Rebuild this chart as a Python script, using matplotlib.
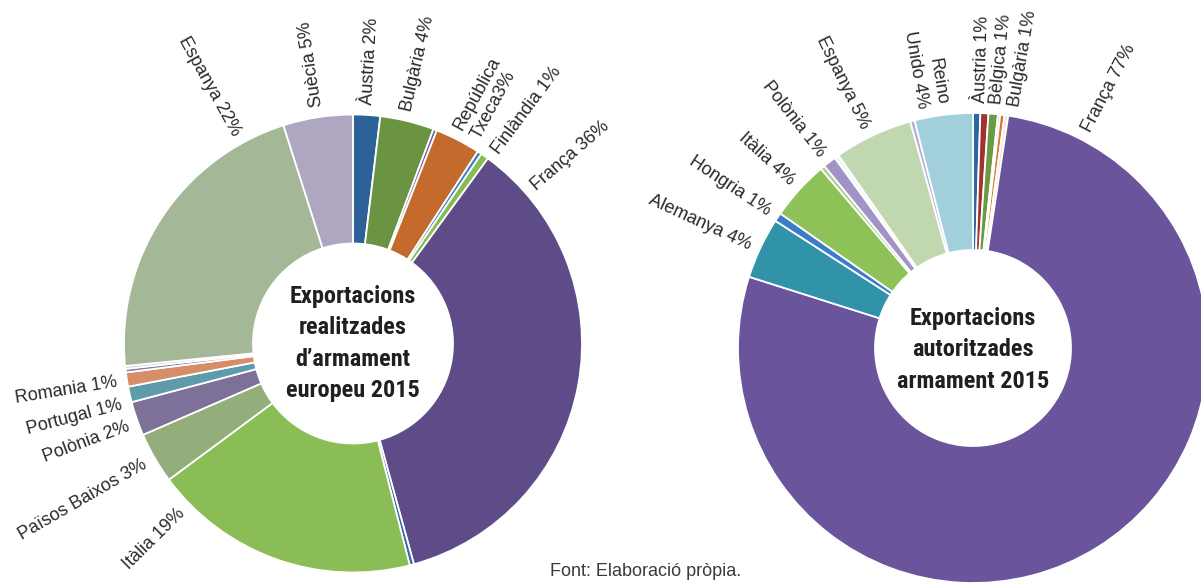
import matplotlib
matplotlib.use('Agg')
import matplotlib.pyplot as plt
from matplotlib import font_manager as fm
from matplotlib.font_manager import FontProperties
import numpy as np

W, H = 1201, 584

# ---------------- data: left donut (realitzades) ----------------
left_labels = ['Àustria 2%', 'Bulgària 4%', '', 'República\nTxeca3%', '', 'Finlàndia 1%',
               'França 36%', '', 'Itàlia 19%', 'Països Baixos 3%', 'Polònia 2%',
               'Portugal 1%', 'Romania 1%', '', '', 'Espanya 22%', 'Suècia 5%']
left_values = [1.9, 3.8, 0.25, 3.2, 0.3, 0.55,
               35.6, 0.3, 18.8, 3.6, 2.4,
               1.1, 1.0, 0.25, 0.2, 21.6, 4.9]

# ---------------- data: right donut (autoritzades) ----------------
right_labels = ['Àustria 1%', 'Bèlgica 1%', 'Bulgària 1%', '', '', '',
                'França 77%', 'Alemanya 4%', 'Hongria 1%', 'Itàlia 4%', '',
                'Polònia 1%', '', 'Espanya 5%', '', 'Reino\nUnido 4%']
right_values = [0.5, 0.55, 0.65, 0.15, 0.3, 0.25,
                77.5, 4.2, 0.6, 4.1, 0.3,
                0.9, 0.3, 5.4, 0.3, 4.0]

left_title = ['Exportacions', 'realitzades', 'd\u2019armament', 'europeu 2015']
right_title = ['Exportacions', 'autoritzades', 'armament 2015']
source_text = 'Font: Elaboració pròpia.'

# ---------------- styles / layout ----------------
left_colors = ['#2D6298', '#6B9442', '#6E5C9C', '#C46A2C', '#3B7BC2', '#86BC50',
               '#5E4C89', '#3867A9', '#8ABD55', '#93AE7B', '#7D7199',
               '#5F9CAB', '#D68D68', '#8683A0', '#C9C9D6', '#A4B797', '#AFA6C1']
right_colors = ['#2C66A4', '#A2312F', '#6B9A42', '#B1A8D0', '#DB7A2C', '#F2E8DC',
                '#6A559C', '#3193A9', '#3A7CC5', '#8EC258', '#A9D08C',
                '#A293C6', '#F5F5F5', '#C0D7B0', '#B6AFD6', '#A2CFDC']

# label direction (degrees, math convention) for each labelled slice
left_label_angles = [86.6, 76.9, None, 61.5, None, 53.3,
                     40.8, None, 224.6, 210.0, 200.3,
                     194.8, 189.2, None, None, 119.1, 98.5]
right_label_angles = [88.3, 84.4, 80.3, None, None, None,
                      62.4, 155.3, 146.4, 137.6, None,
                      128.1, None, 116.1, None, 99.6]

L_C, L_R, L_RIN = (353, 343.5), 229, 100
R_C, R_R, R_RIN = (973, 348), 235, 98
LABEL_GAP = 10
TEXT_COLOR = '#2a2a2a'
LABEL_FONT = ['Liberation Sans', 'DejaVu Sans']


def pick_condensed_bold():
    best = None
    best_score = -1
    for f in fm.fontManager.ttflist:
        nm = f.name
        st = str(f.stretch)
        cond = ('Condensed' in nm or 'Narrow' in nm or
                st in ('condensed', 'semi-condensed', 'extra-condensed', 'ultra-condensed'))
        if not cond:
            continue
        w = f.weight
        if isinstance(w, str):
            wv = {'bold': 700, 'semibold': 600, 'demibold': 600, 'heavy': 800,
                  'black': 900, 'extra bold': 800}.get(w.lower(), 400)
        else:
            wv = int(w)
        if 'italic' in str(f.style).lower() or 'oblique' in str(f.style).lower():
            continue
        score = 0
        if wv >= 700:
            score += 10
        elif wv >= 600:
            score += 6
        if 'Roboto' in nm:
            score += 3
        elif 'Liberation' in nm:
            score += 2
        elif 'DejaVu' in nm:
            score += 1
        if score > best_score:
            best_score = score
            best = f
    if best is not None:
        return FontProperties(fname=best.fname)
    return FontProperties(family=['Liberation Sans', 'DejaVu Sans'], weight='bold')


fig = plt.figure(figsize=(W / 100, H / 100), dpi=100)
ax = fig.add_axes([0, 0, 1, 1])

for vals, cols, (cx, cy), R, rin in [(left_values, left_colors, L_C, L_R, L_RIN),
                                      (right_values, right_colors, R_C, R_R, R_RIN)]:
    ax.pie(vals, colors=cols, startangle=90, counterclock=False, radius=R,
           center=(cx, H - cy), normalize=True,
           wedgeprops=dict(width=R - rin, edgecolor='white', linewidth=1.3))

ax.set_xlim(0, W)
ax.set_ylim(0, H)
ax.set_aspect('auto')
ax.axis('off')


def draw_labels(labels, angles, center, R):
    cx, cy = center
    for lab, a in zip(labels, angles):
        if not lab or a is None:
            continue
        rad = np.deg2rad(a)
        r = R + LABEL_GAP
        x = cx + r * np.cos(rad)
        y = (H - cy) + r * np.sin(rad)
        inward = 99 < (a % 360) < 270
        if inward:
            rot, ha = a - 180, 'right'
        else:
            rot, ha = a, 'left'
        ax.text(x, y, lab, rotation=rot, rotation_mode='anchor', ha=ha, va='center',
                multialignment=ha, fontsize=13, family=LABEL_FONT, color=TEXT_COLOR,
                linespacing=1.2)


draw_labels(left_labels, left_label_angles, L_C, L_R)
draw_labels(right_labels, right_label_angles, R_C, R_R)

# center titles
title_fp = pick_condensed_bold()
fig.canvas.draw()
renderer = fig.canvas.get_renderer()
probe = ax.text(0, 0, 'Exportacions', fontproperties=title_fp, fontsize=20)
wpx = probe.get_window_extent(renderer).width
probe.remove()
tsize = min(22.0, 20.0 * 126.0 / wpx)

for lines, (cx, cy), base0 in [(left_title, L_C, 303), (right_title, R_C, 325)]:
    for i, line in enumerate(lines):
        yb = base0 + i * 31.5
        ax.text(cx, H - yb, line, ha='center', va='baseline', fontproperties=title_fp,
                fontsize=tsize, color='#231F20')

ax.text(550, H - 576, source_text, ha='left', va='baseline', fontsize=13,
        family=LABEL_FONT, color='#3a3a3a')

fig.savefig('out.png', dpi=100)
